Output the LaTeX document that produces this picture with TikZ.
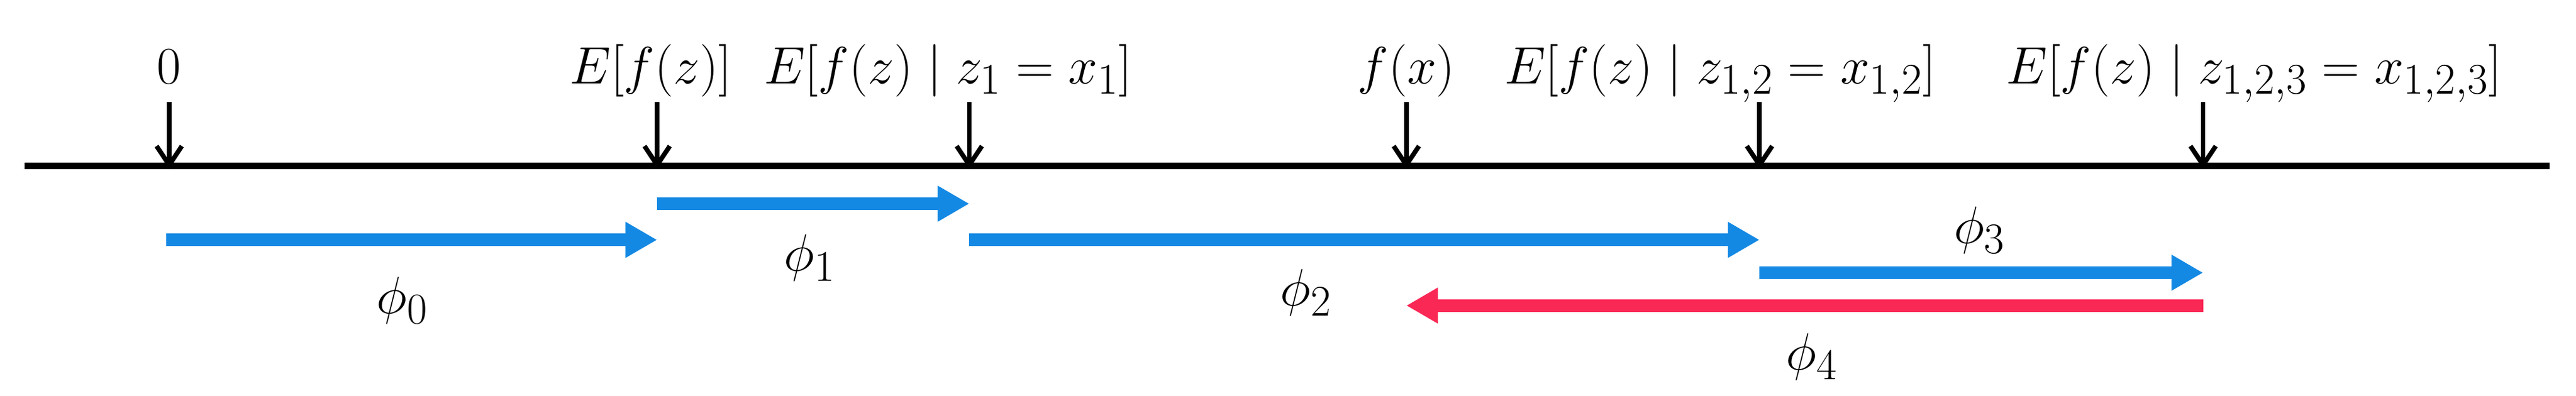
\documentclass[tikz,border=0pt]{standalone}
\usetikzlibrary{arrows.meta}
\definecolor{pblue}{RGB}{20,137,228}
\definecolor{pred}{RGB}{250,40,85}
\begin{document}
\begin{tikzpicture}[x=0.02738cm,y=-0.02738cm,
  tick/.style={line width=2.2pt,-{Straight Barb[length=9pt,width=12pt]}},
  lab/.style={font=\fontsize{29}{34}\selectfont,anchor=base},
  sh/.style={line width=6pt,-{Triangle[length=15pt,width=16pt]}},
  phl/.style={font=\fontsize{29}{34}\selectfont}]
\useasboundingbox (0,0) rectangle (1568,241);
\coordinate (L) at (15,101); \coordinate (R) at (1552,101);
\draw[line width=3pt] (L) -- (R);
\foreach \n/\x/\lx/\t in {a/103/103/{$0$},b/400/396/{$E[f(z)]$},c/590/577/{$E[f(z)\mid z_1=x_1]$},d/856/856/{$f(x)$},e/1071/1047/{$E[f(z)\mid z_{1,2}=x_{1,2}]$},f/1341/1372/{$E[f(z)\mid z_{1,2,3}=x_{1,2,3}]$}}{
  \node[lab] (t\n) at (\lx,51) {\t};
  \coordinate (s\n) at (\x,62); \coordinate (p\n) at (\x,103);
  \draw[tick] (s\n) -- (p\n);
}
\coordinate (a0) at (101,146); \coordinate (a1) at (400,146);
\coordinate (b0) at (400,124); \coordinate (b1) at (590,124);
\coordinate (c0) at (590,146); \coordinate (c1) at (1071,146);
\coordinate (d0) at (1071,166); \coordinate (d1) at (1341,166);
\coordinate (e0) at (1341,186); \coordinate (e1) at (856,186);
\draw[sh,pblue] (a0) -- (a1);
\draw[sh,pblue] (b0) -- (b1);
\draw[sh,pblue] (c0) -- (c1);
\draw[sh,pblue] (d0) -- (d1);
\draw[sh,pred] (e0) -- (e1);
\node[phl] (f0) at (245,183) {$\phi_0$};
\node[phl] (f1) at (493,157) {$\phi_1$};
\node[phl] (f2) at (795,178) {$\phi_2$};
\node[phl] (f3) at (1205,140) {$\phi_3$};
\node[phl] (f4) at (1103,217) {$\phi_4$};
\end{tikzpicture}
\end{document}
